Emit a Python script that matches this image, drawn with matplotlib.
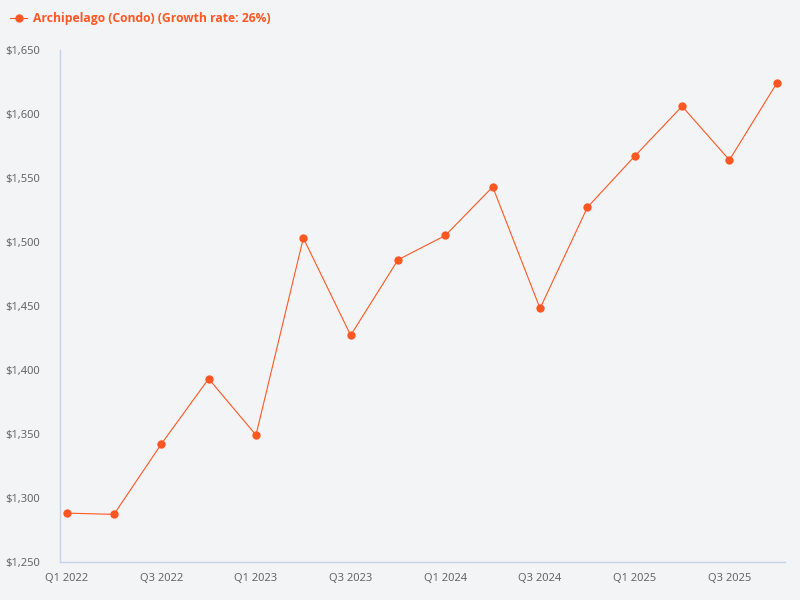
import numpy as np
import matplotlib
matplotlib.use("Agg")
import matplotlib.pyplot as plt
from matplotlib.ticker import FuncFormatter

plt.rcParams["font.family"] = ["Noto Sans", "DejaVu Sans"]

quarters = ["Q1 2022", "Q2 2022", "Q3 2022", "Q4 2022",
            "Q1 2023", "Q2 2023", "Q3 2023", "Q4 2023",
            "Q1 2024", "Q2 2024", "Q3 2024", "Q4 2024",
            "Q1 2025", "Q2 2025", "Q3 2025", "Q4 2025"]
prices = [1288, 1287, 1342, 1393, 1349, 1503, 1427, 1486,
          1505, 1543, 1448, 1527, 1567, 1606, 1564, 1624]
series_name = "Archipelago (Condo) (Growth rate: 26%)"

bg = "#f3f4f6"
line_c = "#ff5722"
axis_c = "#c5d3e8"
text_c = "#666666"

fig = plt.figure(figsize=(8, 6), dpi=100, facecolor=bg)
ax = fig.add_axes([0.0744, 0.0638, 0.9069, 0.8529], facecolor=bg)

x = np.arange(len(quarters))
ax.plot(x, prices, "-o", color=line_c, linewidth=0.8, markersize=6,
        markeredgewidth=0, label=series_name)

ax.set_xlim(-0.15, len(quarters) - 1 + 0.175)
ax.set_ylim(1250, 1650)
ax.set_yticks(np.arange(1250, 1651, 50))
ax.yaxis.set_major_formatter(FuncFormatter(lambda v, p: f"${v:,.0f}"))
ax.set_xticks(x[::2])
ax.set_xticklabels(quarters[::2])

for s in ["top", "right"]:
    ax.spines[s].set_visible(False)
for s in ["left", "bottom"]:
    ax.spines[s].set_color(axis_c)
    ax.spines[s].set_linewidth(1)
ax.tick_params(length=0, labelsize=8, colors=text_c)
ax.tick_params(axis="y", pad=14)
ax.tick_params(axis="x", pad=8)

leg = fig.legend(loc="upper left", bbox_to_anchor=(-0.002, 1.0), frameon=False,
                 handlelength=1.4, handletextpad=0.45, borderaxespad=0.6,
                 prop={"family": ["Open Sans", "DejaVu Sans"], "weight": "bold", "size": 8.7})
for t in leg.get_texts():
    t.set_color(line_c)

fig.savefig("out.png", dpi=100, facecolor=bg)
